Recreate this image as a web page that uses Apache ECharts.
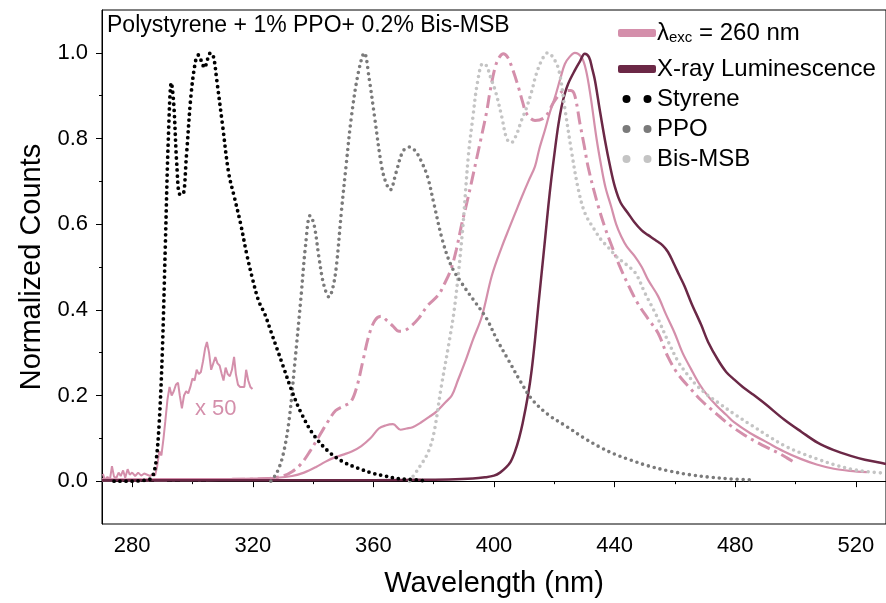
<!DOCTYPE html>
<html>
<head>
<meta charset="utf-8">
<script src="https://cdn.jsdelivr.net/npm/echarts@6/dist/echarts.min.js"></script>
<style>
  html, body { margin: 0; padding: 0; background: #fff; }
  #chart { width: 886px; height: 603px; }
</style>
</head>
<body>
<div id="chart"></div>
<script>
// ---------------- data ----------------
const xMajorTicks = [280, 320, 360, 400, 440, 480, 520];
const xMinorTicks = [300, 340, 380, 420, 460, 500];
const yMajorTicks = [0, 0.2, 0.4, 0.6, 0.8, 1.0];
const yMinorTicks = [0.1, 0.3, 0.5, 0.7, 0.9];

const legendNames = ['λexc = 260 nm', 'X-ray Luminescence', 'Styrene', 'PPO', 'Bis-MSB'];

// [wavelength nm, normalized counts]
const styrene = [[274,0],[280,0],[284,0.002],[286,0.005],[287,0.015],[288,0.05],[289,0.14],[290,0.3],[291,0.55],[292,0.8],[293,0.93],[293.8,0.88],[294.8,0.74],[295.8,0.67],[296.8,0.67],[298,0.76],[299.5,0.9],[301,0.98],[302,0.995],[303,0.98],[304,0.965],[305,0.985],[306,1.0],[307,0.99],[308,0.94],[310,0.83],[312,0.72],[314,0.66],[316,0.6],[318,0.53],[320,0.47],[322,0.42],[324,0.39],[326,0.35],[328,0.31],[330,0.27],[333,0.21],[336,0.16],[340,0.11],[345,0.07],[350,0.045],[355,0.03],[360,0.018],[364,0.012],[368,0.006],[372,0.004],[377,0.001]];

const ppo = [[326,0],[328,0.02],[330,0.06],[332,0.14],[334,0.28],[336,0.43],[337.5,0.55],[339,0.62],[340.3,0.6],[342,0.52],[343.5,0.46],[345.3,0.43],[346.5,0.45],[347.7,0.5],[349.4,0.63],[351,0.74],[352.7,0.85],[354.9,0.95],[357,1.0],[358.6,0.94],[360.4,0.85],[362.6,0.74],[364,0.7],[365.6,0.68],[367.5,0.72],[369.8,0.77],[372,0.78],[374,0.77],[376,0.745],[378,0.71],[380,0.65],[383,0.56],[386,0.5],[389.5,0.46],[393,0.425],[397.5,0.38],[401,0.33],[405,0.28],[409,0.23],[412.7,0.19],[418,0.155],[424,0.128],[430,0.1],[435,0.08],[440,0.063],[445,0.05],[451,0.036],[458,0.024],[465,0.015],[472,0.009],[479,0.005],[485,0.003]];

const bisMSB = [[372,0],[375,0.03],[378,0.065],[380,0.11],[382.5,0.22],[385,0.32],[387,0.41],[389.5,0.58],[391.5,0.76],[393,0.85],[394.5,0.93],[396.3,0.975],[397.5,0.97],[399,0.94],[400.5,0.91],[402.6,0.85],[404.2,0.8],[405.7,0.79],[407.5,0.81],[409,0.84],[410.7,0.87],[412.5,0.91],[414,0.95],[416,0.985],[417.8,1.0],[419.5,0.99],[421.5,0.96],[423.5,0.87],[425.7,0.77],[428,0.68],[430.2,0.625],[433.4,0.586],[435.6,0.563],[438,0.545],[440.5,0.525],[444,0.505],[447,0.485],[450,0.44],[454,0.385],[457.5,0.33],[461,0.28],[464,0.25],[467,0.225],[471,0.2],[475,0.18],[480,0.155],[485.5,0.13],[491,0.105],[496.5,0.082],[502,0.065],[507.5,0.051],[513,0.038],[518.5,0.028],[524,0.022],[529,0.019]];

const exc260 = [[270,0.004],[280,0.004],[290,0.005],[300,0.005],[310,0.005],[320,0.006],[328,0.008],[333,0.012],[337,0.02],[341,0.033],[344,0.045],[347,0.055],[350,0.062],[353,0.07],[356,0.082],[359,0.1],[361.8,0.123],[364,0.13],[366.5,0.133],[369,0.12],[371,0.123],[373,0.126],[376,0.138],[378.5,0.15],[381,0.163],[384,0.185],[386,0.2],[388,0.235],[390.5,0.28],[393,0.33],[396,0.385],[399.3,0.48],[402.6,0.547],[405,0.59],[407,0.625],[409,0.66],[411.4,0.7],[413.6,0.735],[415,0.775],[416.9,0.82],[418.5,0.86],[420.2,0.896],[422,0.94],[423.5,0.974],[425,0.99],[426.8,1.0],[429,0.99],[430.5,0.96],[432,0.9],[434,0.8],[435.6,0.734],[437,0.685],[438.9,0.64],[440.5,0.6],[442.2,0.571],[444,0.548],[446.7,0.525],[449,0.5],[451.1,0.47],[454.4,0.432],[457,0.39],[459.9,0.346],[462.5,0.3],[465.4,0.261],[468,0.228],[470.9,0.199],[474,0.175],[477,0.155],[479.7,0.137],[485,0.112],[490.7,0.09],[496,0.07],[501.7,0.052],[507,0.039],[512.7,0.029],[518,0.024],[523.7,0.021]];

const excDashDot = [[270,0.003],[290,0.003],[310,0.004],[325,0.006],[330,0.012],[333,0.022],[336,0.04],[339,0.07],[342,0.105],[345,0.14],[347.5,0.165],[350,0.175],[352.5,0.185],[354.5,0.22],[356.5,0.28],[358.5,0.34],[360.5,0.375],[362.5,0.385],[364.5,0.375],[366.5,0.362],[368.5,0.35],[370.5,0.352],[372.5,0.362],[375,0.38],[378,0.41],[381.6,0.435],[383.5,0.46],[385.7,0.494],[387.5,0.54],[389.3,0.6],[391,0.65],[392.6,0.7],[394.3,0.755],[396,0.81],[397.5,0.86],[398.7,0.91],[400.4,0.967],[401.8,0.99],[403.1,0.998],[404.5,0.99],[405.9,0.967],[408.1,0.92],[409.5,0.885],[410.8,0.858],[413.6,0.842],[416.9,0.85],[420.2,0.889],[423.5,0.912],[425.5,0.912],[426.8,0.9],[428.5,0.835],[430,0.78],[431.2,0.734],[434,0.656],[436.7,0.594],[439,0.55],[441.5,0.505],[444.4,0.46],[447.6,0.416],[451,0.38],[454.4,0.346],[457.7,0.29],[461,0.25],[465.4,0.214],[468.5,0.19],[472,0.168],[475.3,0.148],[478.6,0.129],[483,0.108],[487.4,0.09],[491,0.077],[494,0.067],[497,0.055],[499.5,0.044]];

const xray = [[270,0.002],[290,0.002],[310,0.002],[330,0.002],[350,0.002],[370,0.003],[385,0.004],[393,0.006],[397,0.009],[400,0.013],[402,0.02],[404,0.032],[405.5,0.045],[407,0.07],[408.3,0.1],[409.5,0.135],[411.4,0.206],[412.5,0.26],[413.6,0.33],[414.7,0.41],[415.8,0.486],[417,0.57],[418,0.641],[419,0.705],[420.2,0.773],[421.3,0.83],[422.4,0.874],[423.5,0.905],[424.6,0.928],[426.8,0.959],[428.5,0.98],[430.1,0.998],[431.5,0.99],[432.5,0.965],[433.5,0.935],[435,0.87],[436.8,0.796],[438.5,0.735],[440.1,0.687],[442,0.65],[444.5,0.625],[446.5,0.605],[448.9,0.586],[451,0.575],[453.5,0.563],[456,0.55],[457.7,0.535],[459.5,0.51],[461.5,0.48],[463.2,0.455],[465.5,0.415],[468.7,0.365],[471,0.325],[474.2,0.284],[477,0.255],[479.7,0.237],[482.5,0.22],[485.2,0.206],[490,0.18],[496.2,0.144],[502,0.115],[507.3,0.09],[512.5,0.073],[518.3,0.059],[523,0.05],[528.2,0.043],[530,0.04]];

// 260 nm excitation, magnified x 50
const exc260x50 = [[270.3,0.017],[271,0.002],[271.8,0.01],[272.6,0.002],[273.3,0.035],[274,0.01],[274.8,0.008],[275.5,0.02],[276.2,0.012],[277,0.025],[277.7,0.008],[278.5,0.028],[279.2,0.015],[280,0.02],[281,0.012],[282,0.02],[283,0.013],[284,0.018],[285,0.015],[286,0.012],[286.8,0.017],[287.6,0.013],[288.3,0.035],[289,0.07],[289.7,0.06],[290.4,0.1],[291,0.14],[291.7,0.19],[292.4,0.22],[293.1,0.2],[293.8,0.21],[294.5,0.225],[295.2,0.23],[295.8,0.2],[296.5,0.17],[297.2,0.2],[297.9,0.21],[298.6,0.205],[299.3,0.22],[300,0.24],[300.7,0.235],[301.4,0.26],[302.1,0.25],[302.8,0.255],[303.5,0.28],[304.2,0.31],[304.8,0.325],[305.5,0.3],[306.2,0.26],[306.9,0.275],[307.6,0.29],[308.3,0.275],[309,0.27],[309.7,0.25],[310.3,0.235],[311,0.265],[311.7,0.25],[312.4,0.245],[313.1,0.26],[313.8,0.29],[314.4,0.25],[315.1,0.225],[315.8,0.22],[316.5,0.22],[317.2,0.22],[317.8,0.26],[318.5,0.235],[319.2,0.22],[319.9,0.215]];

// ---------------- style ----------------
const FONT = 'Liberation Sans, Arial, sans-serif';
const PINK = '#d48fab';
const MAROON = '#6b2846';
const PPO_GRAY = '#7a7a7a';
const BIS_GRAY = '#c4c4c4';
const DOTS = 'path://M0,4a4,4 0 1,0 8,0a4,4 0 1,0 -8,0M21,4a4,4 0 1,0 8,0a4,4 0 1,0 -8,0';

function dotted(name, data, color, w, gap) {
  return {
    name: name, type: 'line', data: data, showSymbol: false, smooth: 0.35,
    color: color,
    lineStyle: { color: color, width: w, type: [0, gap], cap: 'round' },
    z: 3
  };
}

const legendText = {
  color: '#000', fontFamily: FONT, fontSize: 24, padding: [0, 0, 0, -4],
  rich: {
    a: { fontSize: 24, color: '#000', fontFamily: FONT, lineHeight: 24 },
    s: { fontSize: 15, color: '#000', fontFamily: FONT, lineHeight: 18, verticalAlign: 'bottom', padding: [21, 0, 0, 0] }
  }
};
function legendFormatter(n) {
  if (n === legendNames[0]) return '{a|λ}{s|exc}{a| = 260 nm}';
  return '{a|' + n + '}';
}

const chart = echarts.init(document.getElementById('chart'), null, { renderer: 'canvas' });
const option = {
  animation: false,
  backgroundColor: '#fff',
  grid: { left: 102, top: 10, width: 786.5, height: 515, show: true, borderColor: '#000', borderWidth: 1, backgroundColor: 'transparent' },
  xAxis: [{
    type: 'value', min: 270, max: 530, position: 'bottom',
    axisLine: { show: true, lineStyle: { color: '#000', width: 1 } },
    axisTick: { show: true, customValues: xMajorTicks, length: 6, lineStyle: { color: '#000' } },
    axisLabel: { customValues: xMajorTicks, fontSize: 22, color: '#000', margin: 11, fontFamily: FONT },
    splitLine: { show: false },
    name: 'Wavelength (nm)', nameLocation: 'middle', nameGap: 45,
    nameTextStyle: { fontSize: 29, color: '#000', fontFamily: FONT }
  }, {
    type: 'value', min: 270, max: 530, position: 'bottom',
    axisLine: { show: false },
    axisTick: { show: true, customValues: xMinorTicks, length: 3, lineStyle: { color: '#000' } },
    axisLabel: { show: false }, splitLine: { show: false }
  }],
  yAxis: [{
    type: 'value', min: -0.1, max: 1.1, position: 'left',
    axisLine: { show: true, lineStyle: { color: '#000', width: 1 } },
    axisTick: { show: true, customValues: yMajorTicks, length: 6, lineStyle: { color: '#000' } },
    axisLabel: { customValues: yMajorTicks, fontSize: 22, color: '#000', margin: 14, fontFamily: FONT,
      formatter: v => Number(v).toFixed(1) },
    splitLine: { show: false },
    name: 'Normalized Counts', nameLocation: 'middle', nameGap: 50,
    nameTextStyle: { fontSize: 29, color: '#000', fontFamily: FONT }
  }, {
    type: 'value', min: -0.1, max: 1.1, position: 'left',
    axisLine: { show: false },
    axisTick: { show: true, customValues: yMinorTicks, length: 3, lineStyle: { color: '#000' } },
    axisLabel: { show: false }, splitLine: { show: false }
  }],
  legend: [{
    orient: 'vertical', left: 613, top: 4, itemWidth: 38, itemHeight: 8, itemGap: 5,
    selectedMode: false,
    data: [{ name: legendNames[0], icon: 'roundRect' }],
    formatter: legendFormatter, textStyle: legendText
  }, {
    orient: 'vertical', left: 613, top: 52, itemWidth: 38, itemHeight: 8, itemGap: 6,
    selectedMode: false,
    data: [
      { name: legendNames[1], icon: 'roundRect' },
      { name: legendNames[2], icon: DOTS },
      { name: legendNames[3], icon: DOTS },
      { name: legendNames[4], icon: DOTS }
    ],
    formatter: legendFormatter, textStyle: legendText
  }],
  graphic: [
    { type: 'text', left: 107, top: 14, style: { text: 'Polystyrene + 1% PPO+ 0.2% Bis-MSB', fontSize: 23, fontFamily: FONT, fill: '#000' } },
    { type: 'text', left: 195, top: 398, style: { text: 'x 50', fontSize: 22, fontFamily: FONT, fill: PINK } }
  ],
  series: [
    dotted(legendNames[4], bisMSB, BIS_GRAY, 3.6, 6),
    dotted(legendNames[3], ppo, PPO_GRAY, 3.6, 6),
    {
      name: 'dashdot', type: 'line', data: excDashDot, showSymbol: false, smooth: 0.35,
      color: PINK, lineStyle: { color: PINK, width: 3, type: [13, 5, 3, 5] }, z: 2
    },
    {
      name: legendNames[0], type: 'line', data: exc260, showSymbol: false, smooth: 0.35,
      color: PINK, lineStyle: { color: PINK, width: 2.2 }, z: 2
    },
    {
      name: 'x50', type: 'line', data: exc260x50, showSymbol: false,
      color: PINK, lineStyle: { color: PINK, width: 2 }, z: 2
    },
    {
      name: legendNames[1], type: 'line', data: xray, showSymbol: false, smooth: 0.35,
      color: MAROON, lineStyle: { color: MAROON, width: 2.5 }, z: 2
    },
    dotted(legendNames[2], styrene, '#000', 3.8, 6)
  ]
};
chart.setOption(option);
</script>
</body>
</html>
